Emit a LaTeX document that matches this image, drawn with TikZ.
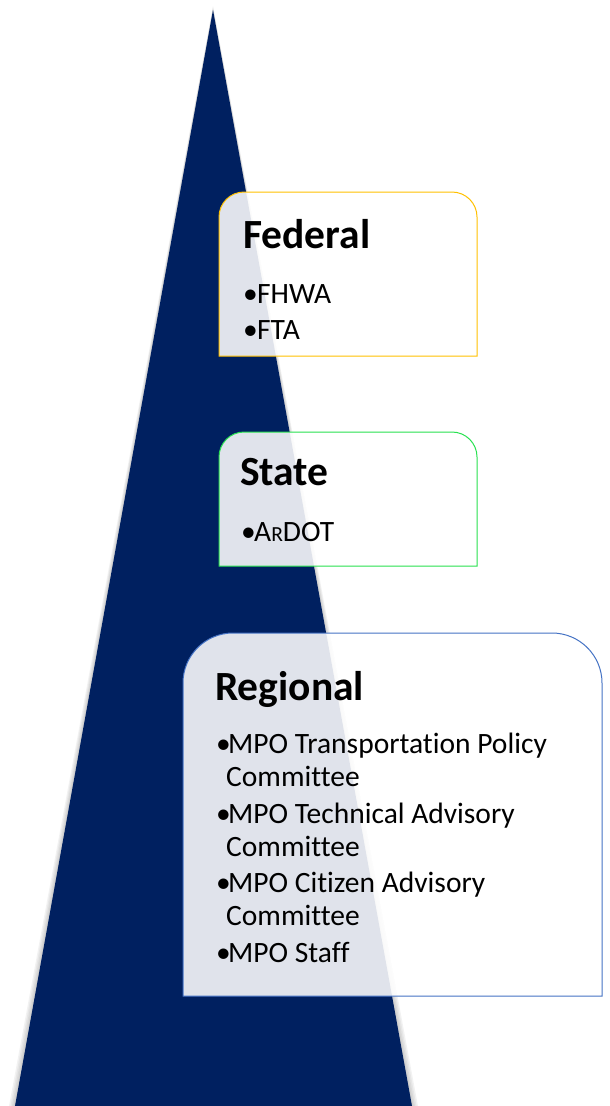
\documentclass[tikz,border=0pt]{standalone}
\usepackage{fontspec}
\setmainfont{Carlito}[Ligatures=NoCommon]
\definecolor{navy}{RGB}{0,32,96}
\definecolor{fedgold}{RGB}{255,192,0}
\definecolor{stgreen}{RGB}{40,225,80}
\definecolor{regblue}{RGB}{68,114,196}
\begin{document}
\begin{tikzpicture}[x=1pt,y=-1pt,
  panel/.style={fill=white,fill opacity=0.88,line width=1pt},
  title/.style={anchor=base west,inner sep=0pt,font=\fontsize{41.5}{41.5}\selectfont\bfseries},
  bullet/.style={anchor=base west,inner sep=0pt,font=\fontsize{29.5}{29.5}\selectfont},
  item/.style={anchor=base west,inner sep=0pt,font=\fontsize{29.5}{29.5}\selectfont}]
\useasboundingbox (0,0) rectangle (610,1106);
\begin{scope}
\clip (0,0) rectangle (610,1106);
% soft shadow
\foreach \s in {4,3,2,1}{
  \fill[black,opacity=0.05] (213,10-\s) -- (412+\s*1.5,1106) -- (15-\s*1.5,1106) -- cycle;
}
\fill[navy] (213,10) -- (412,1106) -- (15,1106) -- cycle;
\end{scope}
% Federal
\path[panel,draw=fedgold] (219,356) [rounded corners=25] -- (219,192) -- (477,192) [sharp corners] -- (477,356) -- cycle;
\node[title] (fed) at (243,248) {Federal};
\node[bullet] (fb1) at (243,303) {•};
\node[item] (f1) at (257,303) {FHWA};
\node[bullet] (fb2) at (243,339) {•};
\node[item] (f2) at (257,339) {FTA};
% State
\path[panel,draw=stgreen] (219,566) [rounded corners=25] -- (219,432) -- (477,432) [sharp corners] -- (477,566) -- cycle;
\node[title] (st) at (240,485) {State};
\node[bullet] (sb1) at (241,541) {•};
\node[item] (s1) at (254,541) {A{\fontsize{21.5}{21.5}\selectfont R}DOT};
% Regional
\path[panel,draw=regblue] (183,996) [rounded corners=50] -- (183,633) -- (602,633) [sharp corners] -- (602,996) -- cycle;
\node[title] (reg) at (215,700) {Regional};
\node[bullet] (rb1) at (216,753) {•};
\node[item] (r1) at (228,753) {MPO Transportation Policy};
\node[item] (r1b) at (226,786) {Committee};
\node[bullet] (rb2) at (216,823) {•};
\node[item] (r2) at (228,823) {MPO Technical Advisory};
\node[item] (r2b) at (226,856) {Committee};
\node[bullet] (rb3) at (216,892) {•};
\node[item] (r3) at (228,892) {MPO Citizen Advisory};
\node[item] (r3b) at (226,925) {Committee};
\node[bullet] (rb4) at (216,962) {•};
\node[item] (r4) at (228,962) {MPO Staff};
\end{tikzpicture}
\end{document}
